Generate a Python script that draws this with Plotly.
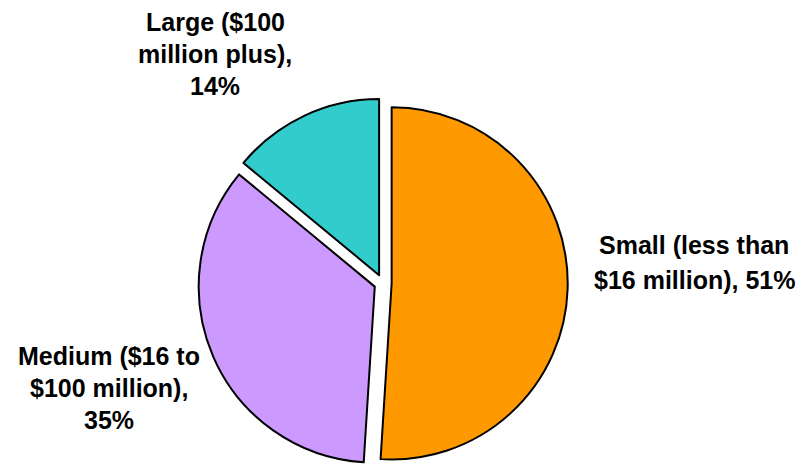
import plotly.graph_objects as go

# Firm size shares
categories = ["Small (less than $16 million)", "Medium ($16 to $100 million)", "Large ($100 million plus)"]
shares = [51, 35, 14]
colors = ["#FF9900", "#CC99FF", "#33CCCC"]

# Label lines for each slice (the last line carries the share)
label_lines = [
    ["Small (less than", "$16 million), {}%"],
    ["Medium ($16 to", "$100 million),", "{}%"],
    ["Large ($100", "million plus),", "{}%"],
]

W, H = 806, 468

fig = go.Figure(
    go.Pie(
        labels=categories,
        values=shares,
        sort=False,
        direction="clockwise",
        rotation=0,
        pull=[0.05, 0.05, 0.05],
        marker=dict(colors=colors, line=dict(color="black", width=2)),
        textinfo="none",
        hoverinfo="label+percent",
        showlegend=False,
        domain=dict(x=[0.15, 0.80], y=[0.0, 0.79]),
    )
)

# Label block anchors (pixel centre x, first line centre y, line step)
anchors = [(694, 245, 35), (109, 356, 32), (215, 22, 32)]

annotations = []
for lines, share, (cx, y0, step) in zip(label_lines, shares, anchors):
    for i, line in enumerate(lines):
        annotations.append(dict(
            x=cx / W, y=1 - (y0 + i * step) / H,
            xref="paper", yref="paper",
            xanchor="center", yanchor="middle",
            text="<b>" + line.format(share) + "</b>",
            showarrow=False,
            font=dict(family="Liberation Sans, Arial, sans-serif", size=25, color="black"),
        ))

fig.update_layout(
    width=W, height=H,
    margin=dict(l=0, r=0, t=0, b=0),
    paper_bgcolor="white",
    plot_bgcolor="white",
    annotations=annotations,
)

fig.write_html("out.html")
